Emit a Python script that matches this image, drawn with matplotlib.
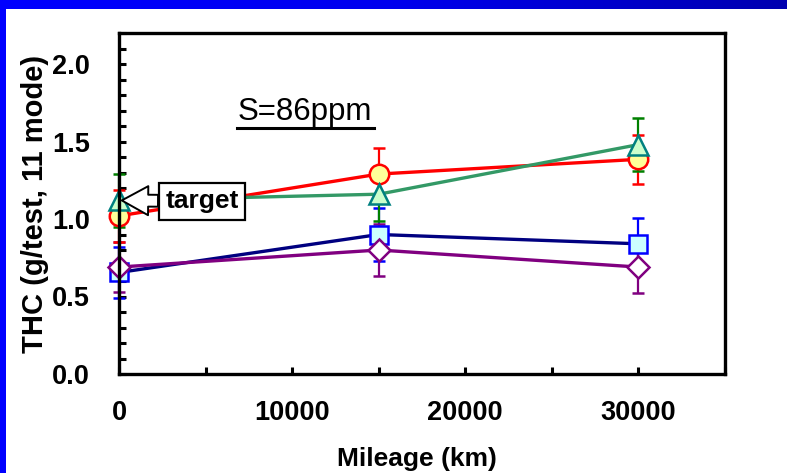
import numpy as np
import matplotlib
matplotlib.use('Agg')
import matplotlib.pyplot as plt
from matplotlib.patches import Rectangle

# dados
mileage = [0, 15000, 30000]

thc_quadrado = [0.655, 0.90, 0.84]
err_quadrado = [0.165, 0.17, 0.165]

thc_losango = [0.69, 0.80, 0.69]
err_losango = [0.16, 0.165, 0.17]

thc_circulo = [1.02, 1.29, 1.385]
err_circulo = [0.17, 0.165, 0.16]

thc_triangulo = [1.12, 1.16, 1.48]
err_triangulo = [0.17, 0.17, 0.17]

plt.rcParams['font.family'] = ['Liberation Sans', 'DejaVu Sans']

fig = plt.figure(figsize=(7.87, 4.73), dpi=100)
fig.patch.set_facecolor('white')

# faixa azul no topo (gradiente) e na esquerda
ax_faixa = fig.add_axes([0, 1 - 9 / 473, 1, 9 / 473])
grad = np.linspace(0, 1, 256).reshape(1, -1)
cmap = matplotlib.colors.LinearSegmentedColormap.from_list('azul', ['#0000ff', '#0000ee', '#0000b0'])
ax_faixa.imshow(grad, aspect='auto', cmap=cmap)
ax_faixa.axis('off')
fig.patches.append(Rectangle((0, 0), 6 / 787, 1, transform=fig.transFigure,
                             facecolor='#0000ff', edgecolor='none', zorder=0))

ax = fig.add_axes([119 / 787, 1 - 374 / 473, (725 - 119) / 787, (374 - 33) / 473])

estilo = dict(lw=2.4, capsize=4.5, elinewidth=1.6, capthick=1.6, markeredgewidth=1.8)
series = [
    (thc_quadrado, err_quadrado, '#000080', '#0000ff', 's', 13, '#ccffff', '#0000ff'),
    (thc_losango, err_losango, '#800080', '#800080', 'D', 11, 'white', '#800080'),
    (thc_circulo, err_circulo, '#ff0000', '#ff0000', 'o', 14, '#ffff99', '#ff0000'),
    (thc_triangulo, err_triangulo, '#339966', '#008000', '^', 15, '#ccffcc', '#008080'),
]
for y, e, cor, ecor, mk, ms, mfc, mec in series:
    linha, caps, barras = ax.errorbar(mileage, y, yerr=e, color=cor, ecolor=ecor, marker=mk,
                                      ms=ms, mfc=mfc, mec=mec, **estilo)
    linha.set_clip_on(False)
    for c in caps:
        c.set_clip_on(False)
    for b in barras:
        b.set_clip_on(False)

ax.set_xlim(0, 35000)
ax.set_ylim(0, 2.2)
ax.set_xticks([0, 10000, 20000, 30000])
ax.set_xticks(np.arange(0, 35001, 5000), minor=True)
ax.set_yticks([0.0, 0.5, 1.0, 1.5, 2.0])
ax.set_yticks(np.arange(0, 2.21, 0.1), minor=True)
ax.set_yticklabels(['0.0', '0.5', '1.0', '1.5', '2.0'])
ax.tick_params(which='both', direction='in', length=5, width=2.2)
ax.tick_params(axis='x', which='both', pad=19)
ax.tick_params(axis='y', which='both', pad=21)
for lbl in ax.get_xticklabels() + ax.get_yticklabels():
    lbl.set_fontsize(19.5)
    lbl.set_fontweight('bold')
for sp in ax.spines.values():
    sp.set_linewidth(2.4)

ax.set_xlabel('Mileage (km)', fontsize=19, fontweight='bold', labelpad=6)
ax.xaxis.set_label_coords(0.492, -0.215)
ax.set_ylabel('THC (g/test, 11 mode)', fontsize=21, fontweight='bold', labelpad=2)

# texto S=86ppm sublinhado
ax.text(0.195, 0.745, 'S=86ppm', transform=ax.transAxes, fontsize=22.5, ha='left', va='baseline')
ax.plot([0.195, 0.42], [0.72, 0.72], transform=ax.transAxes, color='black', lw=2.2, clip_on=False)

# caixa "target" com seta
ax.annotate('target', xy=(0, 1.12), xytext=(4800, 1.115), fontsize=19, fontweight='bold',
            va='center', ha='center',
            bbox=dict(boxstyle='square,pad=0.25', fc='white', ec='black', lw=1.6),
            arrowprops=dict(arrowstyle='simple,head_length=1.0,head_width=1.1,tail_width=0.45',
                            fc='white', ec='black', lw=1.4, shrinkA=0, shrinkB=2))

fig.savefig('out.png', dpi=100)
plt.close(fig)
